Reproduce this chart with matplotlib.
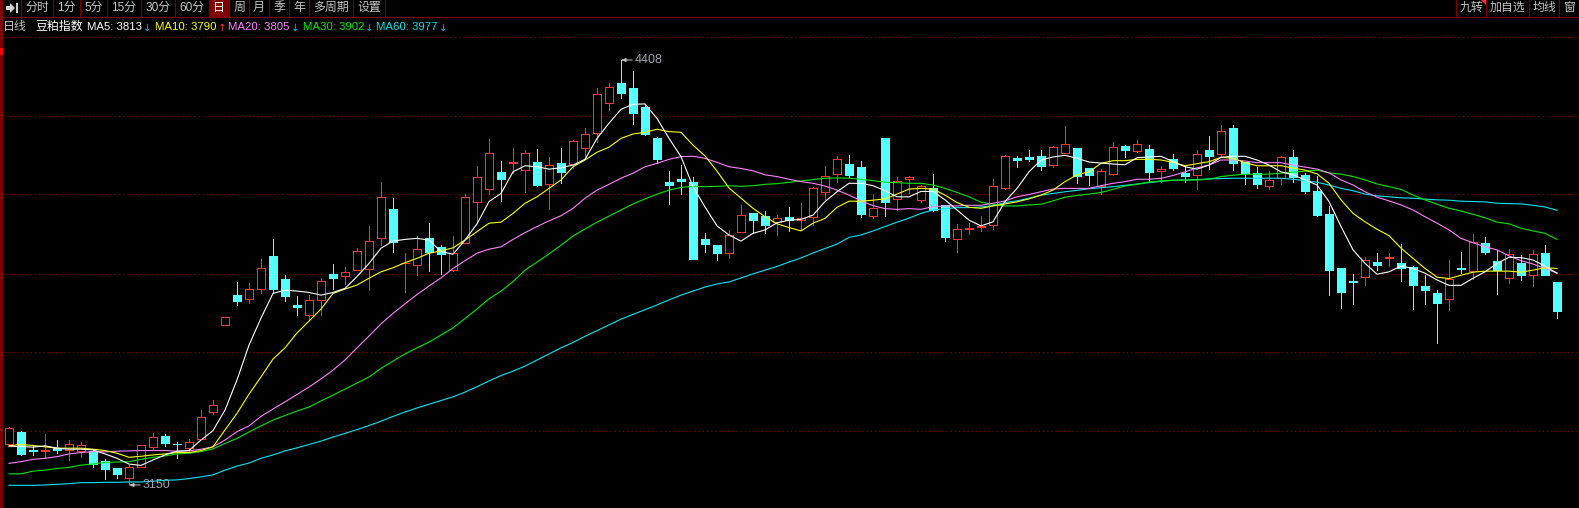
import matplotlib
matplotlib.use('Agg')
import matplotlib.pyplot as plt
from matplotlib.patches import Polygon, Rectangle

plt.rcParams['font.family'] = ['Liberation Sans', 'Noto Sans CJK SC', 'DejaVu Sans']

# 日线 OHLC
opens = [3270, 3307, 3254, 3251, 3260, 3254, 3251, 3251, 3221, 3200,
         3172, 3204, 3263, 3295, 3272, 3260, 3285, 3367, 3624, 3712,
         3701, 3731, 3828, 3760, 3683, 3653, 3699, 3775, 3770, 3786,
         3790, 3880, 3967, 3806, 3802, 3881, 3854, 3786, 3865, 3989,
         4025, 4077, 4103, 4083, 4106, 4040, 4103, 4099, 4148, 4191,
         4282, 4340, 4325, 4269, 4177, 4047, 4056, 4047, 3878, 3860,
         3837, 3900, 3955, 3946, 3929, 3943, 3934, 3942, 4018, 4071,
         4100, 4091, 3947, 4177, 3997, 4055, 3994, 4029, 3979, 3879,
         3909, 3915, 3919, 4028, 4118, 4121, 4123, 4098, 4134, 4147,
         4088, 4034, 4071, 4153, 4140, 4145, 4080, 4115, 4074, 4069,
         4142, 4130, 4207, 4106, 4074, 4036, 4060, 4121, 4068, 4020,
         3952, 3792, 3754, 3767, 3810, 3823, 3807, 3795, 3739, 3718,
         3701, 3792, 3784, 3866, 3813, 3764, 3807, 3772, 3837, 3751]
closes = [3318, 3242, 3250, 3254, 3254, 3270, 3268, 3212, 3197, 3183,
          3202, 3267, 3291, 3274, 3270, 3276, 3350, 3386, 3646, 3695,
          3729, 3791, 3730, 3709, 3677, 3697, 3753, 3763, 3780, 3842,
          3871, 4002, 3869, 3808, 3848, 3840, 3834, 3836, 4002, 4061,
          4132, 4057, 4105, 4132, 4038, 4096, 4077, 4167, 4188, 4306,
          4327, 4310, 4251, 4189, 4115, 4038, 4050, 3819, 3863, 3837,
          3889, 3948, 3934, 3920, 3939, 3933, 3940, 4028, 4064, 4114,
          4068, 3952, 3971, 3988, 4049, 4061, 4034, 3964, 3884, 3907,
          3911, 3917, 4034, 4123, 4113, 4115, 4094, 4150, 4158, 4065,
          4068, 4079, 4150, 4142, 4158, 4077, 4085, 4088, 4065, 4129,
          4124, 4197, 4103, 4074, 4041, 4052, 4120, 4062, 4020, 3949,
          3786, 3721, 3751, 3815, 3801, 3825, 3792, 3742, 3727, 3689,
          3759, 3789, 3868, 3840, 3786, 3833, 3772, 3833, 3772, 3665]
highs = [3322, 3311, 3268, 3301, 3283, 3283, 3277, 3257, 3228, 3200,
         3209, 3267, 3304, 3301, 3277, 3285, 3372, 3402, 3646, 3751,
         3747, 3819, 3878, 3772, 3709, 3712, 3763, 3804, 3795, 3852,
         3917, 4048, 4000, 3837, 3886, 3926, 3860, 3887, 4011, 4094,
         4174, 4109, 4148, 4142, 4145, 4121, 4148, 4171, 4207, 4325,
         4340, 4408, 4375, 4275, 4180, 4079, 4097, 4062, 3896, 3860,
         3905, 3979, 3955, 3961, 3949, 3973, 3985, 4032, 4094, 4124,
         4127, 4109, 4011, 4177, 4062, 4065, 4038, 4071, 3979, 3923,
         3926, 3946, 4055, 4127, 4124, 4142, 4142, 4153, 4213, 4147,
         4088, 4085, 4165, 4156, 4171, 4156, 4094, 4130, 4094, 4142,
         4183, 4216, 4216, 4106, 4091, 4079, 4124, 4142, 4074, 4065,
         3976, 3792, 3775, 3825, 3837, 3837, 3863, 3798, 3772, 3727,
         3816, 3840, 3893, 3884, 3846, 3849, 3831, 3846, 3860, 3751]
lows = [3268, 3239, 3239, 3229, 3246, 3224, 3233, 3203, 3168, 3171,
        3150, 3204, 3256, 3265, 3231, 3252, 3285, 3360, 3624, 3683,
        3689, 3718, 3717, 3695, 3653, 3638, 3653, 3730, 3745, 3786,
        3727, 3860, 3840, 3721, 3772, 3783, 3775, 3783, 3865, 3926,
        4012, 3991, 4073, 4018, 4035, 3968, 4044, 4088, 4121, 4165,
        4260, 4295, 4219, 4186, 4103, 3982, 4011, 3819, 3840, 3816,
        3822, 3899, 3896, 3896, 3890, 3902, 3905, 3920, 3997, 4047,
        4062, 3943, 3940, 3946, 3964, 4014, 3988, 3961, 3872, 3840,
        3893, 3902, 3908, 4026, 4091, 4109, 4082, 4091, 4134, 4044,
        4038, 4011, 4068, 4121, 4136, 4050, 4047, 4082, 4047, 4026,
        4085, 4121, 4082, 4041, 4029, 4026, 4041, 4047, 4014, 3946,
        3712, 3674, 3686, 3742, 3786, 3798, 3754, 3671, 3686, 3570,
        3668, 3778, 3760, 3834, 3715, 3748, 3757, 3739, 3772, 3644]

# 均线
ma5 = [3265, 3264, 3262, 3266, 3259, 3256, 3256, 3254, 3242, 3229,
       3212, 3208, 3224, 3239, 3250, 3252, 3283, 3311, 3372, 3461,
       3564, 3644, 3717, 3727, 3724, 3720, 3712, 3720, 3732, 3767,
       3806, 3851, 3872, 3877, 3880, 3875, 3841, 3833, 3875, 3923,
       3989, 4013, 4077, 4095, 4092, 4085, 4089, 4097, 4114, 4176,
       4221, 4262, 4277, 4278, 4235, 4176, 4122, 4033, 3973, 3917,
       3890, 3872, 3895, 3905, 3926, 3934, 3936, 3949, 3989, 4018,
       4043, 4043, 4036, 4021, 4003, 4003, 4019, 4019, 3994, 3964,
       3934, 3917, 3929, 3989, 4028, 4077, 4112, 4121, 4126, 4117,
       4106, 4103, 4100, 4098, 4119, 4121, 4123, 4107, 4092, 4085,
       4097, 4120, 4123, 4123, 4112, 4097, 4077, 4068, 4053, 4038,
       3989, 3915, 3846, 3806, 3774, 3781, 3798, 3791, 3777, 3757,
       3741, 3741, 3762, 3781, 3806, 3824, 3823, 3816, 3798, 3777]
ma10 = [3266, 3270, 3267, 3263, 3259, 3259, 3259, 3256, 3252, 3244,
        3232, 3235, 3239, 3242, 3246, 3246, 3252, 3263, 3313, 3362,
        3419, 3470, 3523, 3556, 3600, 3635, 3671, 3717, 3730, 3742,
        3762, 3781, 3793, 3808, 3821, 3836, 3843, 3852, 3875, 3900,
        3925, 3928, 3954, 3984, 4003, 4028, 4053, 4092, 4112, 4135,
        4150, 4176, 4189, 4194, 4203, 4196, 4194, 4156, 4124, 4079,
        4029, 3999, 3969, 3944, 3923, 3912, 3902, 3925, 3939, 3972,
        3990, 3990, 3993, 3997, 4011, 4026, 4028, 4026, 4008, 3986,
        3972, 3969, 3976, 3982, 3988, 3997, 4008, 4023, 4048, 4068,
        4077, 4102, 4110, 4110, 4114, 4114, 4112, 4105, 4095, 4101,
        4107, 4120, 4117, 4104, 4095, 4095, 4095, 4088, 4082, 4071,
        4043, 3994, 3954, 3929, 3907, 3888, 3851, 3821, 3791, 3765,
        3761, 3771, 3780, 3783, 3783, 3783, 3780, 3786, 3793, 3791]
ma20 = [3214, 3219, 3226, 3229, 3234, 3242, 3246, 3249, 3248, 3250,
        3251, 3252, 3252, 3252, 3250, 3251, 3256, 3263, 3283, 3308,
        3325, 3353, 3375, 3396, 3418, 3440, 3464, 3490, 3520, 3556,
        3591, 3627, 3658, 3686, 3714, 3739, 3763, 3791, 3814, 3836,
        3848, 3855, 3877, 3897, 3915, 3932, 3947, 3969, 3999, 4023,
        4040, 4058, 4073, 4092, 4102, 4114, 4122, 4123, 4117, 4105,
        4092, 4087, 4080, 4068, 4063, 4055, 4048, 4043, 4035, 4023,
        4008, 3991, 3977, 3968, 3966, 3968, 3966, 3974, 3976, 3976,
        3978, 3978, 3984, 3991, 4003, 4010, 4018, 4026, 4028, 4028,
        4028, 4036, 4043, 4048, 4055, 4055, 4058, 4066, 4077, 4089,
        4097, 4112, 4112, 4109, 4104, 4104, 4104, 4097, 4091, 4085,
        4074, 4053, 4038, 4018, 4002, 3991, 3979, 3964, 3944, 3925,
        3905, 3880, 3867, 3855, 3846, 3828, 3814, 3804, 3791, 3777]
ma30 = [3183, 3183, 3191, 3194, 3199, 3202, 3209, 3212, 3217, 3218,
        3219, 3226, 3232, 3236, 3242, 3244, 3249, 3257, 3273, 3288,
        3307, 3325, 3342, 3356, 3369, 3381, 3399, 3416, 3434, 3452,
        3470, 3495, 3517, 3538, 3556, 3573, 3594, 3615, 3643, 3671,
        3701, 3724, 3752, 3786, 3810, 3834, 3860, 3887, 3908, 3928,
        3946, 3964, 3982, 3997, 4011, 4023, 4031, 4034, 4033, 4034,
        4036, 4034, 4036, 4040, 4042, 4046, 4050, 4054, 4058, 4059,
        4058, 4055, 4051, 4046, 4045, 4043, 4043, 4038, 4028, 4016,
        4003, 3987, 3981, 3976, 3976, 3979, 3981, 3991, 4002, 4007,
        4011, 4016, 4025, 4035, 4040, 4047, 4050, 4052, 4052, 4053,
        4055, 4063, 4067, 4070, 4070, 4070, 4073, 4076, 4079, 4082,
        4074, 4070, 4063, 4053, 4041, 4033, 4025, 4008, 3994, 3981,
        3969, 3961, 3951, 3941, 3928, 3923, 3910, 3902, 3895, 3877]
ma60 = [3149, 3149, 3149, 3150, 3152, 3154, 3157, 3157, 3158, 3158,
        3159, 3159, 3161, 3164, 3165, 3169, 3174, 3180, 3194, 3206,
        3215, 3229, 3239, 3251, 3260, 3270, 3280, 3292, 3303, 3314,
        3326, 3339, 3353, 3366, 3378, 3389, 3400, 3411, 3425, 3441,
        3458, 3474, 3487, 3502, 3520, 3538, 3556, 3572, 3590, 3607,
        3624, 3641, 3655, 3669, 3683, 3698, 3712, 3724, 3736, 3745,
        3751, 3763, 3775, 3786, 3797, 3810, 3822, 3837, 3850, 3863,
        3883, 3890, 3902, 3915, 3928, 3940, 3954, 3964, 3968, 3971,
        3971, 3973, 3977, 3986, 3991, 3999, 4008, 4013, 4018, 4022,
        4027, 4030, 4033, 4037, 4041, 4045, 4049, 4052, 4053, 4054,
        4056, 4057, 4058, 4058, 4058, 4058, 4058, 4055, 4051, 4046,
        4038, 4028, 4021, 4011, 4006, 4003, 4000, 3999, 3996, 3994,
        3993, 3990, 3989, 3988, 3984, 3983, 3982, 3978, 3973, 3963]

grid_prices = [4476, 4243, 4010, 3776, 3543, 3309]

bar_labels = ['分时', '1分', '5分', '15分', '30分', '60分', '日', '周', '月', '季', '年', '多周期', '设置']
right_labels = ['九转', '加自选', '均线', '窗']
ma_header = [('MA5: 3813', '↓', '#FFFFFF', '#1EA7E1'), ('MA10: 3790', '↑', '#FFFF00', '#FF3232'),
             ('MA20: 3805', '↓', '#FF80FF', '#1EA7E1'), ('MA30: 3902', '↓', '#00E600', '#1EA7E1'),
             ('MA60: 3977', '↓', '#00E6E6', '#1EA7E1')]

RED = '#FF3232'
CYAN = '#54FFFF'
DARK_RED = '#800000'
W, H = 1579, 508

fig = plt.figure(figsize=(W / 100, H / 100), dpi=100, facecolor='black')
ax = fig.add_axes([0, 0, 1, 1], facecolor='black')
ax.set_xlim(-0.75, 130.83)
ax.set_ylim(3081.9, 4585.6)
ax.axis('off')

x = list(range(len(opens)))
for p in grid_prices:
    ax.plot([-0.3, 130.83], [p, p], color=DARK_RED, lw=0.72, dashes=(1.4, 2.8), zorder=1)

up = [c >= o for o, c in zip(opens, closes)]
wick_colors = [RED if u else CYAN for u in up]
ax.vlines(x, lows, highs, colors=wick_colors, lw=0.72, zorder=2, antialiased=False)

# 阳线空心, 阴线实心
for i in x:
    bottom = min(opens[i], closes[i])
    height = abs(closes[i] - opens[i])
    if up[i]:
        ax.bar(i, height, 0.68, bottom=bottom, facecolor='black', edgecolor=RED, lw=0.72,
               joinstyle='miter', zorder=3, antialiased=False)
    else:
        ax.bar(i, height, 0.68, bottom=bottom, facecolor=CYAN, edgecolor=CYAN, lw=0.72,
               joinstyle='miter', zorder=3, antialiased=False)

ax.plot(x, ma60, color='#00E6F0', lw=0.8, zorder=4)
ax.plot(x, ma30, color='#00E600', lw=0.8, zorder=4)
ax.plot(x, ma20, color='#FF80FF', lw=0.8, zorder=4)
ax.plot(x, ma10, color='#FFFF00', lw=0.8, zorder=5)
ax.plot(x, ma5, color='#FFFFFF', lw=0.8, zorder=6)

# 最高最低标注
i_high = highs.index(max(highs))
i_low = lows.index(min(lows))
for i, v in [(i_high, highs[i_high]), (i_low, lows[i_low])]:
    ax.annotate(str(v), xy=(i, v), xytext=(10, 0), textcoords='offset points', color='#9AA4AE',
                fontsize=9, va='center', ha='left', zorder=7,
                arrowprops=dict(arrowstyle='-|>,head_width=0.12,head_length=0.3', color='#C0C0C0', lw=0.7,
                                shrinkA=0, shrinkB=0))

# 工具栏, in pixel coordinates
ov = fig.add_axes([0, 0, 1, 1], facecolor='none')
ov.set_xlim(0, W)
ov.set_ylim(H, 0)
ov.axis('off')

ov.add_patch(Rectangle((0, 0), 3, H, facecolor=DARK_RED, edgecolor='none'))
ov.add_patch(Rectangle((0, 48), 3, 7, facecolor='#FF0000', edgecolor='none'))
ov.plot([0, W], [17, 17], color=DARK_RED, lw=0.8)

left_edges = [21, 53, 80, 107, 141, 175, 209, 229, 249, 269, 289, 309, 353, 385]
ov.add_patch(Rectangle((209, 0), 20, 17, facecolor=DARK_RED, edgecolor='none'))
for e in left_edges:
    ov.plot([e, e], [0, 17], color=DARK_RED, lw=0.8)
for a, b, t in zip(left_edges[:-1], left_edges[1:], bar_labels):
    ov.text((a + b) / 2, 7.5, t, color='white' if t == '日' else '#C4C4C4', fontsize=8.6, ha='center', va='center')
ov.add_patch(Polygon([(6, 6), (10, 6), (10, 3), (15, 8), (10, 13), (10, 10), (6, 10)],
                     facecolor='#D0D0D0', edgecolor='none'))
ov.add_patch(Rectangle((15.5, 3), 2.5, 10, facecolor='#D0D0D0', edgecolor='none'))

right_edges = [1456, 1486, 1529, 1559, 1579]
for e in right_edges[:-1]:
    ov.plot([e, e], [0, 17], color=DARK_RED, lw=0.8)
for a, b, t in zip(right_edges[:-1], right_edges[1:], right_labels):
    ov.text((a + b) / 2, 8, t, color='#C4C4C4', fontsize=8.6, ha='center', va='center')
ov.add_patch(Polygon([(1481, 0), (1486, 0), (1486, 5)], facecolor='#FF3232', edgecolor='none'))

ov.text(3, 27, '日线', color='#C4C4C4', fontsize=8.6, ha='left', va='center')
ov.text(35, 27, '豆粕指数', color='white', fontsize=8.6, ha='left', va='center')
ma_x = [87, 155, 228, 303, 376]
arrow_x = [147, 222, 295, 369, 443]
for mx, a_x, (label, arrow, col, acol) in zip(ma_x, arrow_x, ma_header):
    ov.text(mx, 27, label, color=col, fontsize=8.2, ha='left', va='center')
    ov.text(a_x, 28, arrow, color=acol, fontsize=7.5, ha='center', va='center', family='DejaVu Sans')

fig.savefig('out.png', dpi=100, facecolor='black')
